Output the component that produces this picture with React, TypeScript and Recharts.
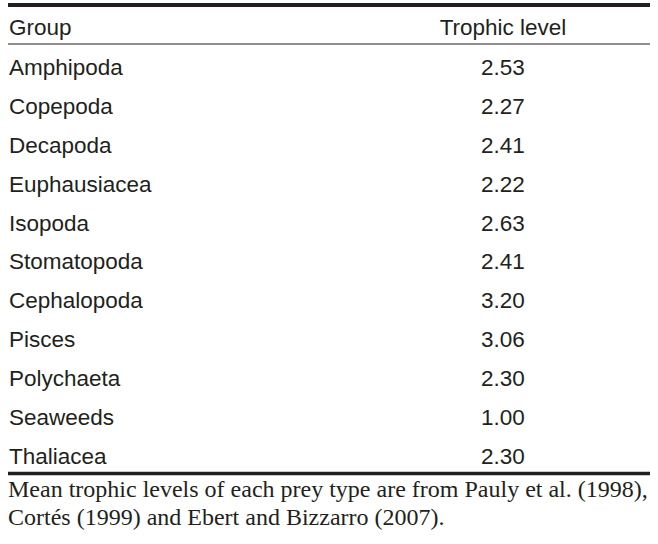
import { ScatterChart, Scatter, XAxis, YAxis } from "recharts";

// table content
const columns = ["Group", "Trophic level"];
const groups = [
  "Amphipoda",
  "Copepoda",
  "Decapoda",
  "Euphausiacea",
  "Isopoda",
  "Stomatopoda",
  "Cephalopoda",
  "Pisces",
  "Polychaeta",
  "Seaweeds",
  "Thaliacea",
];
const trophicLevels = [2.53, 2.27, 2.41, 2.22, 2.63, 2.41, 3.2, 3.06, 2.3, 1.0, 2.3];
const footnoteLines = [
  "Mean trophic levels of each prey type are from Pauly et al. (1998),",
  "Cortés (1999) and Ebert and Bizzarro (2007).",
];

const INK = "#231f20";
const SANS = '"Liberation Sans", Arial, sans-serif';
const SERIF = '"Liberation Serif", "Times New Roman", serif';
const FONT_SIZE = 22.5;

// every value sits in the "Trophic level" column (index 1)
const rows = groups.map((group, i) => ({
  group,
  level: trophicLevels[i],
  column: 1,
}));

function HeaderTick(props: any) {
  const { x, y, payload } = props;
  const isFirst = payload.value === 0;
  return (
    <text
      x={x}
      y={y}
      fill={INK}
      fontFamily={SANS}
      fontSize={FONT_SIZE}
      textAnchor={isFirst ? "start" : "middle"}
    >
      {columns[payload.value]}
    </text>
  );
}

function GroupTick(props: any) {
  const { x, y, payload } = props;
  return (
    <text
      x={x}
      y={y}
      dx={1}
      dy="0.43em"
      fill={INK}
      fontFamily={SANS}
      fontSize={FONT_SIZE}
      textAnchor="start"
    >
      {payload.value}
    </text>
  );
}

function LevelCell(props: any) {
  const { cx, cy, payload } = props;
  return (
    <text
      x={cx}
      y={cy}
      dy="0.43em"
      fill={INK}
      fontFamily={SANS}
      fontSize={FONT_SIZE}
      textAnchor="middle"
    >
      {payload.level.toFixed(2)}
    </text>
  );
}

export default function App() {
  return (
    <div
      style={{
        position: "absolute",
        left: 0,
        top: 0,
        width: 658,
        height: 544,
        background: "#fff",
      }}
    >
      <ScatterChart
        width={658}
        height={476}
        margin={{ top: 0, right: 8, bottom: 0, left: 7 }}
      >
        {/* header row, its axis line is the thin rule under the header */}
        <XAxis
          xAxisId="head"
          orientation="top"
          type="number"
          dataKey="column"
          domain={[0, 1]}
          ticks={[0, 1]}
          padding={{ left: 1, right: 147 }}
          height={39}
          tickSize={0}
          tickMargin={9}
          tickLine={false}
          axisLine={{ stroke: INK, strokeWidth: 1 }}
          tick={<HeaderTick />}
        />
        {/* thick top rule */}
        <XAxis
          xAxisId="rule"
          orientation="top"
          type="number"
          domain={[0, 1]}
          height={5}
          tick={false}
          tickLine={false}
          axisLine={{ stroke: INK, strokeWidth: 4 }}
        />
        {/* thick bottom rule */}
        <XAxis
          xAxisId="base"
          orientation="bottom"
          type="number"
          domain={[0, 1]}
          height={2.5}
          tick={false}
          tickLine={false}
          axisLine={{ stroke: INK, strokeWidth: 3.5 }}
        />
        <YAxis
          type="category"
          dataKey="group"
          scale="band"
          reversed
          width={1}
          padding={{ top: 2, bottom: 0 }}
          tickSize={0}
          tickMargin={0}
          tickLine={false}
          axisLine={false}
          interval={0}
          tick={<GroupTick />}
        />
        <Scatter
          data={rows}
          xAxisId="head"
          shape={<LevelCell />}
          isAnimationActive={false}
        />
      </ScatterChart>
      <div
        style={{
          position: "absolute",
          left: 8,
          top: 475,
          fontFamily: SERIF,
          fontSize: 24,
          lineHeight: "28px",
          color: INK,
          whiteSpace: "nowrap",
        }}
      >
        {footnoteLines.map((line) => (
          <div key={line}>{line}</div>
        ))}
      </div>
    </div>
  );
}
